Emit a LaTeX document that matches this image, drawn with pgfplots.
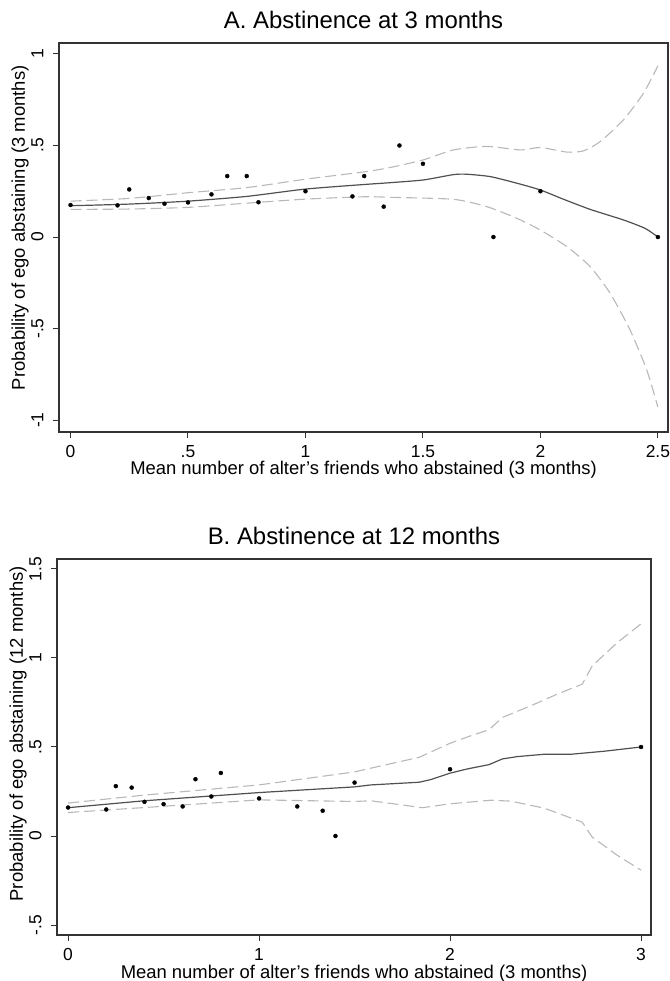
\documentclass[border=0pt]{standalone}
\usepackage{pgfplots}
\pgfplotsset{compat=1.18}
\usepackage{fontspec}
\setmainfont{Liberation Sans}

\definecolor{fitgray}{HTML}{505050}
\definecolor{cigray}{HTML}{B8B8B8}
\definecolor{framegray}{HTML}{333333}

\pgfplotsset{
  panel/.style={
    scale only axis,
    axis line style={draw=framegray, line width=1.1bp},
    tick style={draw=framegray, line width=1bp},
    tick align=outside, major tick length=6bp,
    xtick pos=bottom, ytick pos=left,
    title style={at={(axis description cs:0.5,1)}, anchor=base, yshift=9bp,
      font=\fontsize{24}{28}\selectfont},
    xlabel style={at={(axis description cs:0.5,0)}, anchor=base, yshift=-43bp,
      font=\fontsize{18.5}{22}\selectfont},
    % rotated nodes: yshift moves them to the left
    ylabel style={anchor=base, yshift=34bp,
      font=\fontsize{18.5}{22}\selectfont},
    ticklabel style={font=\fontsize{17.5}{20}\selectfont},
    xticklabel style={anchor=base, yshift=-19.5bp},
    yticklabel style={rotate=90, anchor=base, yshift=9.5bp},
  },
  ci/.style={color=cigray, line width=1.1bp, dash pattern=on 11bp off 5bp, no marks},
  fit/.style={color=fitgray, line width=1.2bp, no marks},
  pts/.style={only marks, mark=*, mark size=2bp, color=black},
}

\begin{document}
\begin{tikzpicture}
\path[use as bounding box] (0,0) rectangle (670bp,981bp);

% ---- A. 3 months
\begin{axis}[panel,
  at={(59bp,549bp)}, anchor=south west,
  width=609bp, height=389bp,
  xmin=-0.049, xmax=2.543, ymin=-1.065, ymax=1.06,
  xtick={0,0.5,1,1.5,2,2.5}, xticklabels={0,.5,1,1.5,2,2.5},
  ytick={-1,-0.5,0,0.5,1}, yticklabels={-1,-.5,0,.5,1},
  title={A. Abstinence at 3 months},
  xlabel={Mean number of alter's friends who abstained (3 months)},
  ylabel={Probability of ego abstaining (3 months)},
  ylabel style={at={(axis description cs:0,0.525)}},
]
\addplot[ci, smooth, tension=0.4] coordinates {
(0,0.196) (0.25,0.211) (0.5,0.242) (0.75,0.27) (1,0.316) (1.25,0.356)
(1.361,0.38) (1.503,0.422) (1.63,0.476) (1.772,0.495) (1.914,0.476)
(2,0.489) (2.113,0.464) (2.184,0.471) (2.255,0.522) (2.354,0.641)
(2.439,0.786) (2.5,0.936)};
\addplot[ci, smooth, tension=0.4] coordinates {
(0,0.151) (0.25,0.153) (0.5,0.162) (0.75,0.185) (1,0.207) (1.25,0.22)
(1.361,0.217) (1.63,0.206) (1.772,0.166) (1.9,0.102) (2,0.038)
(2.113,-0.053) (2.212,-0.162) (2.297,-0.308) (2.382,-0.509)
(2.453,-0.728) (2.5,-0.929)};
\addplot[fit, smooth, tension=0.4] coordinates {
(0,0.171) (0.25,0.18) (0.5,0.196) (0.75,0.222) (1,0.262) (1.25,0.287)
(1.361,0.297) (1.503,0.312) (1.63,0.341) (1.687,0.343) (1.787,0.33)
(1.9,0.294) (2,0.257) (2.099,0.206) (2.212,0.151) (2.354,0.093)
(2.446,0.047) (2.5,0)};
\addplot[pts] coordinates {
(0,0.175) (0.2,0.173) (0.25,0.26) (0.333,0.213) (0.4,0.182) (0.5,0.189)
(0.6,0.233) (0.667,0.333) (0.75,0.333) (0.8,0.19) (1,0.25) (1.2,0.222)
(1.25,0.333) (1.333,0.166) (1.4,0.5) (1.5,0.4) (1.8,0) (2,0.25) (2.5,0)};
\end{axis}

% ---- B. 12 months
\begin{axis}[panel,
  at={(57bp,46bp)}, anchor=south west,
  width=594bp, height=376bp,
  xmin=-0.058, xmax=3.052, ymin=-0.556, ymax=1.556,
  xtick={0,1,2,3}, xticklabels={0,1,2,3},
  ytick={-0.5,0,0.5,1,1.5}, yticklabels={-.5,0,.5,1,1.5},
  title={B. Abstinence at 12 months},
  xlabel={Mean number of alter's friends who abstained (3 months)},
  ylabel={Probability of ego abstaining (12 months)},
  ylabel style={at={(axis description cs:0,0.535)}},
]
\addplot[ci] coordinates {
(0,0.185) (0.4,0.23) (1,0.287) (1.5,0.36) (1.585,0.381) (1.838,0.442)
(2,0.521) (2.108,0.563) (2.204,0.597) (2.274,0.666) (2.422,0.731)
(2.561,0.797) (2.692,0.853) (2.744,0.955) (2.875,1.086) (3,1.192)};
\addplot[ci] coordinates {
(0,0.132) (0.4,0.16) (1,0.203) (1.5,0.194) (1.585,0.198) (1.855,0.159)
(2,0.181) (2.213,0.201) (2.317,0.196) (2.491,0.157) (2.692,0.078)
(2.744,-0.006) (2.875,-0.108) (3,-0.192)};
\addplot[fit] coordinates {
(0,0.159) (0.4,0.198) (1,0.244) (1.5,0.276) (1.585,0.287) (1.838,0.302)
(1.899,0.317) (2,0.353) (2.091,0.377) (2.204,0.401) (2.274,0.433)
(2.352,0.446) (2.491,0.459) (2.631,0.459) (2.805,0.476) (3,0.5)};
\addplot[pts] coordinates {
(0,0.16) (0.2,0.149) (0.25,0.28) (0.333,0.272) (0.4,0.192) (0.5,0.179)
(0.6,0.166) (0.667,0.319) (0.75,0.222) (0.8,0.354) (1,0.211) (1.2,0.166)
(1.333,0.142) (1.4,0) (1.5,0.3) (2,0.375) (3,0.5)};
\end{axis}
\end{tikzpicture}
\end{document}
